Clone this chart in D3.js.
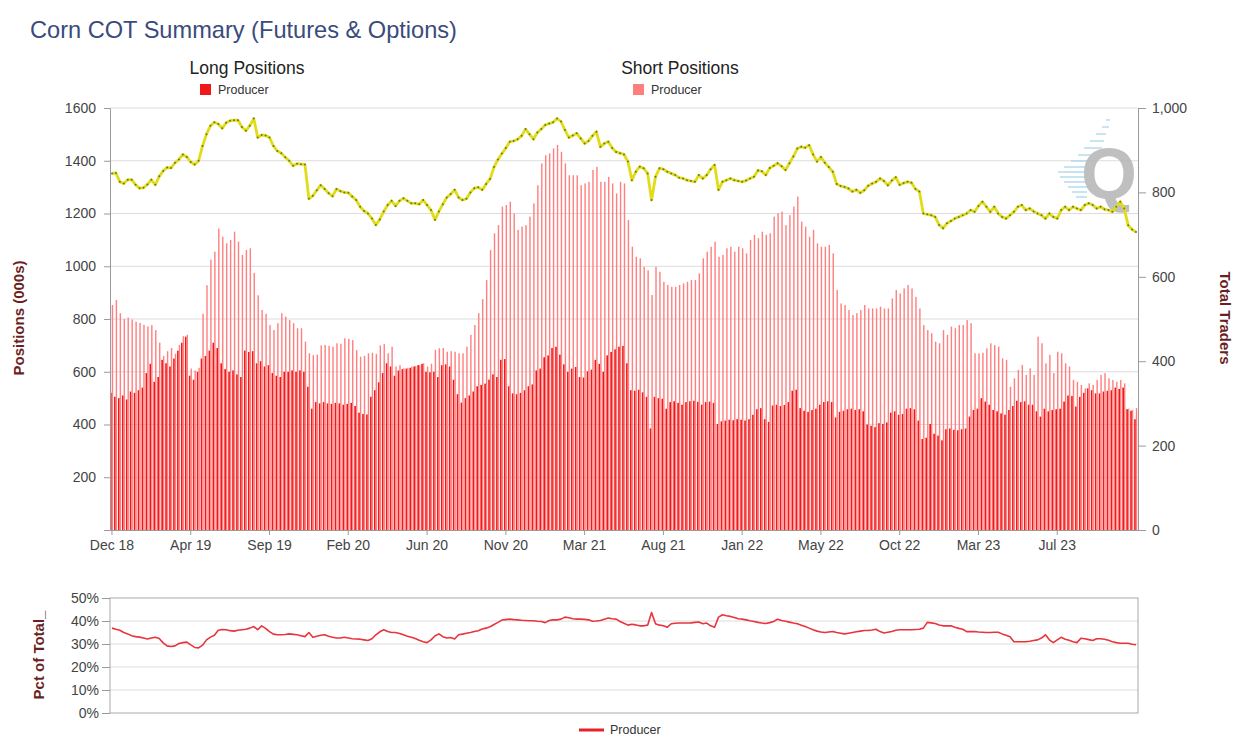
<!DOCTYPE html>
<html>
<head>
<meta charset="UTF-8">
<title>Corn COT Summary</title>
<script src="https://d3js.org/d3.v7.min.js"></script>
<style>
  body { margin: 0; background: #fff; }
  svg { display: block; font-family: "Liberation Sans", Arial, sans-serif; }
  .grid line { stroke: #dcdcdc; stroke-width: 1; }
  .axis text { fill: #444; font-size: 14px; }
  .axis path, .axis line { stroke: #9a9a9a; }
  .ytitle { fill: #6b1f1f; font-weight: bold; font-size: 15px; }
</style>
</head>
<body>
<svg id="chart" width="1237" height="737"></svg>
<script>
// weekly COT data, Dec 2018 .. late 2023 (one row = 20 weeks = one x tick)
var tickLabels = ["Dec 18","Apr 19","Sep 19","Feb 20","Jun 20","Nov 20","Mar 21",
                  "Aug 21","Jan 22","May 22","Oct 22","Mar 23","Jul 23"];
var tickEvery = 20;

// Producer long positions (000s)
var longPos = [
  520,505,500,510,495,525,520,530,540,595,630,562,580,645,632,620,650,680,710,733,
  585,570,600,650,660,680,710,690,632,610,600,605,590,580,680,675,678,632,640,620,
  625,595,585,580,600,600,605,600,605,600,543,460,485,480,485,480,478,482,480,475,
  478,482,470,445,440,438,505,530,560,595,632,620,585,605,610,612,615,620,625,630,
  600,598,600,580,625,628,620,570,515,483,500,510,525,545,550,555,570,590,580,645,
  648,545,518,515,520,530,545,552,605,612,655,662,690,695,665,628,600,612,618,580,
  578,602,608,645,630,600,662,675,685,695,698,632,530,528,532,522,505,385,505,500,
  498,460,485,488,482,475,485,488,490,486,475,485,487,482,402,412,415,418,416,420,
  418,415,420,437,458,462,420,410,472,475,470,474,485,528,532,462,452,448,455,460,
  475,485,488,485,427,448,452,458,460,455,458,450,400,395,390,405,402,408,445,450,
  437,440,460,462,458,415,345,350,402,365,358,340,382,385,380,378,382,385,430,455,
  460,500,487,475,455,450,442,437,455,470,490,485,488,475,475,450,430,460,450,455,
  458,460,487,510,508,468,505,520,537,530,518,518,525,528,530,540,535,540,458,452,420
];

// Producer short positions (000s)
var shortPos = [
  853,872,822,800,805,798,790,785,778,772,777,758,710,660,678,690,668,702,735,740,
  612,605,615,820,928,1025,1055,1143,1112,1087,1100,1131,1093,1043,1062,1068,975,890,834,820,
  777,758,784,822,809,796,784,765,765,714,670,663,665,700,702,698,695,708,706,727,
  725,720,682,657,660,670,672,668,700,705,670,695,620,625,613,615,620,622,625,632,
  620,630,683,689,690,676,678,676,670,670,695,740,777,822,875,948,1062,1125,1156,1226,
  1232,1245,1200,1138,1150,1156,1188,1238,1307,1390,1421,1428,1447,1460,1434,1390,1345,1345,1345,1307,
  1314,1320,1365,1377,1320,1320,1339,1314,1276,1320,1314,1175,1074,1036,1030,998,985,891,998,979,
  941,929,922,922,929,935,941,948,948,973,1030,1055,1074,1093,1036,1043,1068,1074,1055,1074,
  1068,1049,1100,1119,1106,1131,1119,1125,1188,1201,1207,1156,1194,1226,1264,1169,1150,1112,1138,1087,
  1074,1074,1081,1049,910,859,853,834,815,822,834,853,840,840,840,847,840,840,878,910,
  897,916,929,916,884,840,777,758,746,714,708,758,740,771,765,777,777,796,784,670,
  670,672,689,708,701,695,651,645,543,575,607,626,588,613,588,733,708,632,664,595,
  676,670,632,620,569,562,550,537,556,550,569,588,595,575,569,562,569,556,460,455,462
];

// Total traders (right axis)
var traders = [
  845,846,825,821,830,830,818,810,811,819,830,818,838,851,859,858,870,878,890,884,
  872,866,875,910,938,958,966,962,952,965,970,971,971,955,946,958,975,930,936,935,
  930,910,898,893,883,875,863,868,867,866,785,792,805,817,808,798,791,808,803,800,
  799,790,782,766,756,750,738,723,736,755,770,780,768,780,786,780,774,774,772,782,
  770,758,735,755,772,788,796,806,788,782,785,800,810,812,806,820,832,860,878,892,
  905,920,922,926,934,950,938,926,942,950,960,963,966,975,968,948,930,935,940,928,
  916,922,934,944,908,916,920,905,896,893,890,873,829,849,861,857,845,782,837,857,
  855,849,845,841,835,833,829,827,825,841,833,841,855,865,806,825,829,833,829,827,
  825,828,833,837,852,850,841,858,863,869,862,853,869,885,904,908,906,912,890,873,
  884,870,860,849,820,815,813,809,802,806,799,805,816,821,825,833,827,817,828,836,
  818,822,825,823,808,802,750,748,746,742,723,715,727,732,738,742,746,750,758,754,
  768,778,766,754,766,750,742,738,746,754,766,770,758,762,755,750,746,738,750,742,
  738,758,766,758,766,762,758,770,774,770,762,766,760,758,754,766,778,762,722,712,706
];

// Producer pct of total (%)
var pctTotal = [
  36.9,36.4,36.0,35.0,34.4,33.6,33.2,33.0,32.6,32.2,32.6,32.9,32.4,30.5,29.2,28.9,29.2,30.2,30.6,30.8,
  29.6,28.5,28.3,29.5,31.8,33.0,33.8,36.0,36.3,36.2,35.8,35.6,36.0,36.2,36.4,36.9,37.6,36.2,37.9,36.8,
  35.4,34.3,34.0,34.0,34.1,34.4,34.2,34.0,33.6,33.2,35.0,32.9,33.4,33.8,34.0,33.4,32.9,32.6,32.6,32.9,
  32.6,32.3,32.2,32.1,31.8,31.5,32.3,34.0,35.3,36.2,35.4,35.0,35.0,34.6,34.0,33.4,32.9,32.4,31.6,31.0,
  30.6,31.8,33.5,34.4,33.2,32.6,32.8,32.2,34.0,34.3,34.7,35.0,35.4,35.8,36.5,36.9,37.5,38.5,39.4,40.4,
  40.6,40.8,40.6,40.5,40.3,40.2,40.1,40.1,39.9,39.8,39.3,40.2,40.5,40.5,40.8,41.7,41.4,41.0,40.8,40.8,
  40.7,40.5,39.9,40.0,40.2,40.8,41.3,41.0,40.8,39.8,39.0,38.2,38.6,38.3,37.9,37.9,38.2,43.7,38.8,38.2,
  37.9,37.3,38.8,39.0,39.1,39.1,39.1,39.2,39.4,39.6,38.8,39.1,37.9,37.3,41.7,42.7,42.3,42.0,41.5,41.0,
  40.8,40.5,40.1,39.8,39.4,39.1,38.9,39.3,39.8,40.8,40.2,39.9,39.5,39.1,38.8,38.2,37.6,36.9,36.2,35.6,
  35.2,35.0,35.2,35.4,35.0,34.7,34.4,34.7,35.0,35.3,35.6,35.9,35.9,36.1,36.4,35.4,34.8,35.1,35.4,36.0,
  36.2,36.2,36.2,36.2,36.3,36.4,36.9,39.4,39.2,38.9,38.3,37.9,37.9,37.9,37.3,36.8,36.4,35.4,35.4,35.4,
  35.2,35.1,35.0,35.0,35.1,35.1,34.4,33.8,33.2,31.0,31.0,31.0,31.0,31.2,31.5,31.8,32.6,34.0,31.8,30.6,
  31.8,32.9,32.1,31.6,31.0,30.6,32.5,32.3,31.9,31.5,32.3,32.3,32.1,31.6,31.0,30.6,30.3,30.3,30.3,29.9,29.7
];

var posTicks = [0,200,400,600,800,1000,1200,1400,1600];
var traderTicks = [0,200,400,600,800,1000];
var pctTicks = [0,10,20,30,40,50];

var N = longPos.length;
var svg = d3.select("#chart");

var plotL = 110, plotR = 1138, plotT = 108, plotB = 530;
var pctT = 598, pctB = 713;

// ======= SCALES =======
var x = d3.scaleBand().domain(d3.range(N)).range([plotL, plotR]);
var bw = x.bandwidth();
var yL = d3.scaleLinear().domain([0, 1600]).range([plotB, plotT]);
var yR = d3.scaleLinear().domain([0, 1000]).range([plotB, plotT]);
var yP = d3.scaleLinear().domain([0, 50]).range([pctB, pctT]);

// title
svg.append("text").attr("x", 30).attr("y", 38)
  .attr("font-size", 23.6).attr("fill", "#3a4b7c")
  .text("Corn COT Summary (Futures & Options)");

// legend headers
function legendBlock(cx, title, color) {
  svg.append("text").attr("x", cx).attr("y", 74).attr("text-anchor", "middle")
    .attr("font-size", 17.5).attr("fill", "#222").text(title);
  svg.append("rect").attr("x", cx - 47).attr("y", 84).attr("width", 11).attr("height", 11)
    .attr("fill", color);
  svg.append("text").attr("x", cx - 29).attr("y", 94).attr("font-size", 12.5)
    .attr("fill", "#333").text("Producer");
}
legendBlock(247, "Long Positions", "#f01818");
legendBlock(680, "Short Positions", "#ff7f7f");

// ======= GRID =======
svg.append("g").attr("class", "grid")
  .selectAll("line").data(posTicks.filter(function(d){ return d > 0; })).join("line")
  .attr("x1", plotL).attr("x2", plotR)
  .attr("y1", function(d){ return yL(d); }).attr("y2", function(d){ return yL(d); })
  .attr("stroke", function(d){ return d === 1600 ? "#b8b8b8" : "#dcdcdc"; });

// watermark
var wm = svg.append("g").attr("opacity", 0.85);
[[120,1106,1110],[127,1102,1109],[134,1096,1106],[141,1090,1104],[148,1084,1102],
 [155,1078,1100],[161,1071,1098],[167,1064,1095],[172,1058,1093],[177,1060,1091],
 [182,1064,1089],[187,1068,1087],[192,1072,1087],[197,1076,1087]].forEach(function(r){
  wm.append("line").attr("x1", r[1]).attr("x2", r[2]).attr("y1", r[0]).attr("y2", r[0])
    .attr("stroke", "#a9d6ea").attr("stroke-width", 1.5);
});
wm.append("text").attr("x", 1081).attr("y", 199).attr("font-size", 72)
  .attr("font-weight", "bold").attr("fill", "#b5b5b5").text("Q");

// ======= BARS =======
svg.append("g").selectAll("rect").data(longPos).join("rect")
  .attr("x", function(d, i){ return x(i) + 0.1; })
  .attr("width", bw * 0.42)
  .attr("y", function(d){ return yL(d); })
  .attr("height", function(d){ return yL(0) - yL(d); })
  .attr("fill", "#f01818");

svg.append("g").selectAll("rect").data(shortPos).join("rect")
  .attr("x", function(d, i){ return x(i) + 0.1 + bw * 0.42; })
  .attr("width", bw * 0.36)
  .attr("y", function(d){ return yL(d); })
  .attr("height", function(d){ return yL(0) - yL(d); })
  .attr("fill", "#ff8080");

// ======= TOTAL TRADERS LINE =======
var traderLine = d3.line()
  .x(function(d, i){ return x(i) + bw / 2; })
  .y(function(d){ return yR(d); });
svg.append("path").attr("d", traderLine(traders))
  .attr("fill", "none").attr("stroke", "#e2dc18").attr("stroke-width", 2.8)
  .attr("stroke-linejoin", "round");
svg.append("g").selectAll("circle").data(traders).join("circle")
  .attr("cx", function(d, i){ return x(i) + bw / 2; })
  .attr("cy", function(d){ return yR(d); })
  .attr("r", 1).attr("fill", "#6a7a2c");

// ======= AXES =======
svg.append("g").attr("class", "axis")
  .attr("transform", "translate(" + plotL + ",0)")
  .call(d3.axisLeft(yL).tickValues(posTicks).tickSize(6).tickPadding(8)
    .tickFormat(function(d){ return d === 0 ? "" : d; }));

svg.append("g").attr("class", "axis")
  .attr("transform", "translate(" + plotR + ",0)")
  .call(d3.axisRight(yR).tickValues(traderTicks).tickSize(8).tickPadding(6)
    .tickFormat(d3.format(",")));

svg.append("g").attr("class", "axis")
  .attr("transform", "translate(0," + plotB + ")")
  .call(d3.axisBottom(x)
    .tickValues(d3.range(0, tickLabels.length * tickEvery, tickEvery))
    .tickFormat(function(d){ return tickLabels[d / tickEvery]; })
    .tickSize(5).tickSizeOuter(0).tickPadding(5));

svg.append("text").attr("class", "ytitle")
  .attr("transform", "translate(24,318) rotate(-90)")
  .attr("text-anchor", "middle").text("Positions (000s)");
svg.append("text").attr("class", "ytitle")
  .attr("transform", "translate(1220,318) rotate(90)")
  .attr("text-anchor", "middle").text("Total Traders");

// ======= PCT OF TOTAL PANEL =======
svg.append("g").attr("class", "grid")
  .selectAll("line").data(pctTicks.filter(function(d){ return d > 0 && d < 50; })).join("line")
  .attr("x1", plotL).attr("x2", plotR)
  .attr("y1", function(d){ return yP(d); }).attr("y2", function(d){ return yP(d); });

svg.append("rect").attr("x", plotL).attr("y", pctT)
  .attr("width", plotR - plotL).attr("height", pctB - pctT)
  .attr("fill", "none").attr("stroke", "#a8a8a8");

svg.append("g").attr("class", "axis")
  .attr("transform", "translate(" + plotL + ",0)")
  .call(d3.axisLeft(yP).tickValues(pctTicks).tickSize(8).tickPadding(3)
    .tickFormat(function(d){ return d + "%"; }))
  .call(function(g){ g.select(".domain").remove(); });

var pctLine = d3.line()
  .x(function(d, i){ return x(i) + bw / 2; })
  .y(function(d){ return yP(d); });
svg.append("path").attr("d", pctLine(pctTotal))
  .attr("fill", "none").attr("stroke", "#e8343c").attr("stroke-width", 1.6)
  .attr("stroke-linejoin", "round");

svg.append("text").attr("class", "ytitle").attr("font-size", 14)
  .attr("transform", "translate(44,655) rotate(-90)")
  .attr("text-anchor", "middle").text("Pct of Total_");

svg.append("line").attr("x1", 579).attr("x2", 604).attr("y1", 730).attr("y2", 730)
  .attr("stroke", "#e8202a").attr("stroke-width", 3);
svg.append("text").attr("x", 610).attr("y", 734).attr("font-size", 12.5)
  .attr("fill", "#333").text("Producer");
</script>
</body>
</html>
